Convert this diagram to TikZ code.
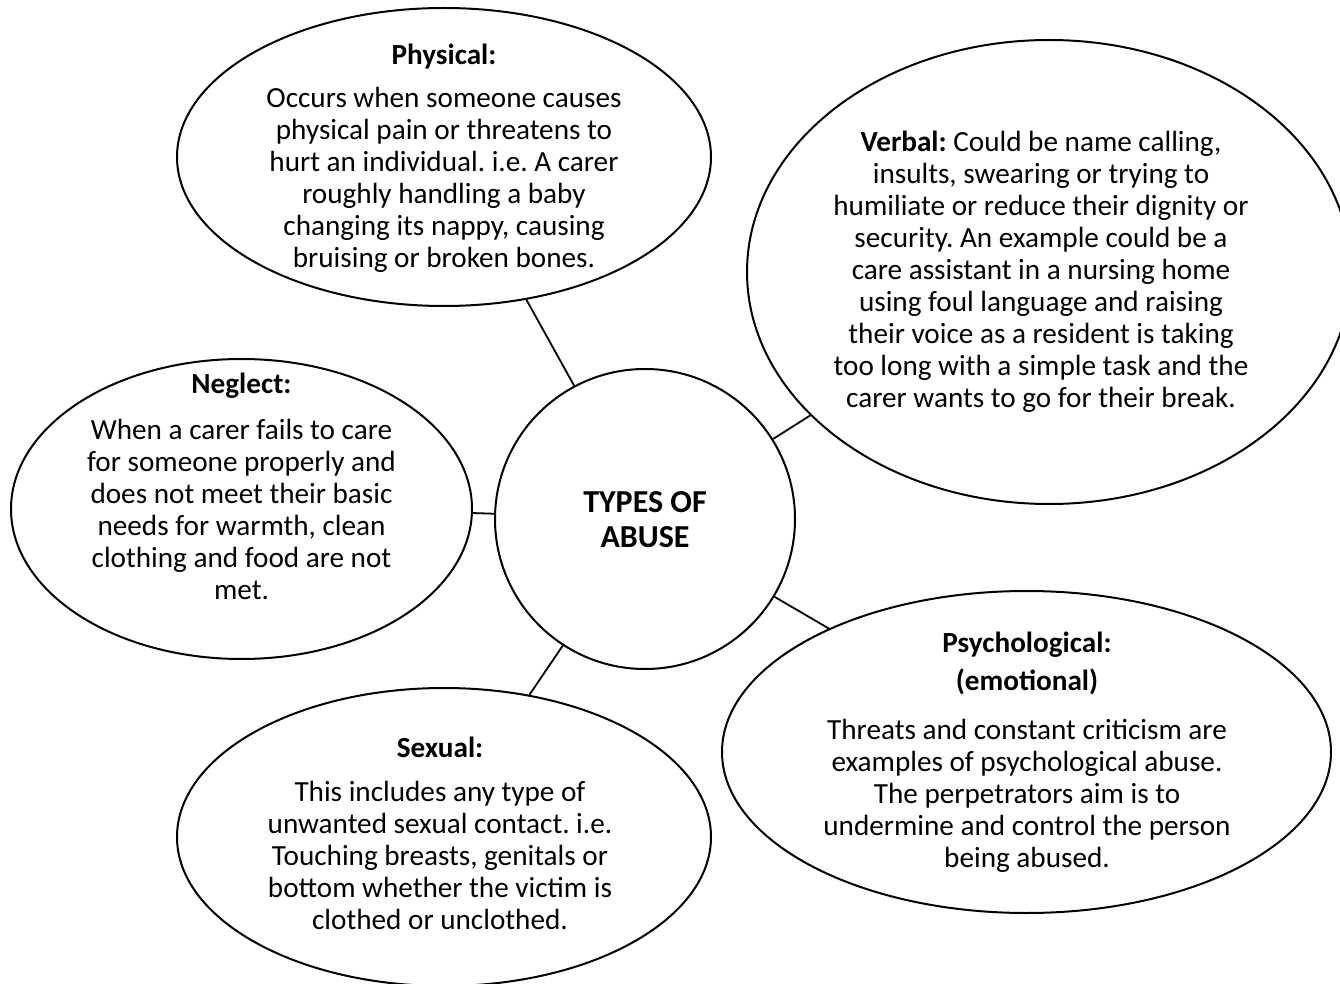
\documentclass[tikz,border=0pt]{standalone}
\usepackage{fontspec}
\setmainfont{Carlito}
\usetikzlibrary{shapes.geometric}
\frenchspacing

\begin{document}
\begin{tikzpicture}
	[x=0.5pt,y=-0.5pt,
	bubble/.style 2 args={draw=black,line width=1pt,ellipse,inner sep=0pt,minimum width=#1pt,minimum height=#2pt},
	]
	\tikzset{txt/.style={align=center,font=\fontsize{14.6}{16}\selectfont}}
	\tikzset{link/.style={draw,line width=0.9pt}}
	\useasboundingbox (0,0) rectangle (1340,984);
	
	\node[bubble={267}{149}] (e-1) at (444,157) {};
	\node[bubble={302}{232}] (e-2) at (1049,272) {};
	\node[bubble={230.5}{150}] (e-3) at (241.5,509) {};
	\node[bubble={304.5}{161}] (e-4) at (1026.5,752) {};
	\node[bubble={267}{149}] (e-5) at (444,837) {};
	\node[draw=black,line width=1pt,circle,inner sep=0pt,minimum size=150pt] (c) at (645,519) {};
	
	\node[txt] (t-1) at (444,158.5) {\textbf{Physical:}\\[5.5pt]
		Occurs when someone causes\\ physical pain or threatens to\\ hurt an individual. i.e. A carer\\
		roughly handling a baby\\ changing its nappy, causing\\ bruising or broken bones.};
	\node[txt] (t-2) at (1041,271.5) {\textbf{Verbal:} Could be name calling,\\ insults, swearing or trying to\\
		humiliate or reduce their dignity or\\ security. An example could be a\\ care assistant in a nursing home\\
		using foul language and raising\\ their voice as a resident is taking\\ too long with a simple task and the\\
		carer wants to go for their break.};
	\node[txt] (t-3) at (241.5,486) {\textbf{Neglect:}\\[7pt]
		When a carer fails to care\\ for someone properly and\\ does not meet their basic\\
		needs for warmth, clean\\ clothing and food are not\\ met.};
	\node[txt,font=\fontsize{16}{17.5}\selectfont\bfseries] (t-c) at (645,520) {TYPES OF\\ ABUSE};
	\node[txt] (t-4) at (1027,752) {\textbf{Psychological:}\\[3pt] \textbf{(emotional)}\\[8.5pt]
		Threats and constant criticism are\\ examples of psychological abuse.\\ The perpetrators aim is to\\
		undermine and control the person\\ being abused.};
	\node[txt] (t-5) at (440,833) {\textbf{Sexual:}\\[6pt]
		This includes any type of\\ unwanted sexual contact. i.e.\\ Touching breasts, genitals or\\
		bottom whether the victim is\\ clothed or unclothed.};
	
	\foreach \x/\a/\b in {1/118.6/-60.8, 2/32/211.2, 3/178.5/-1.5, 4/-31.4/148.6, 5/-123.6/59.4}
	{
		\path[link] (c.\a) -- (e-\x.\b);
	}

\end{tikzpicture}
\end{document}
